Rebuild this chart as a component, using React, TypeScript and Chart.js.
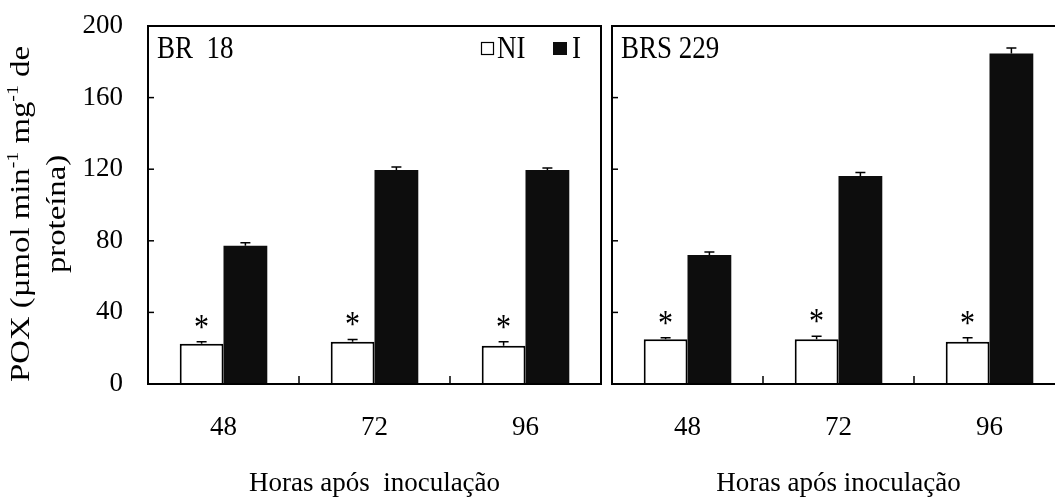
import React, { useEffect, useRef } from "react";
import { Chart, registerables } from "chart.js";

Chart.register(...registerables);

const FONT = "'Liberation Serif', 'Times New Roman', Times, serif";

// ---- data ----
const hours = ["48", "72", "96"];
const seriesNames = ["NI", "I"];
const yTickValues = [0, 40, 80, 120, 160, 200];

const br18NI = [22.5, 23.6, 21.4];
const br18NIErr = [1.1, 1.3, 2.2];
const br18I = [77.3, 119.5, 119.5];
const br18IErr = [1.6, 1.7, 1.2];

const brs229NI = [25.0, 25.0, 23.6];
const brs229NIErr = [0.9, 1.7, 2.3];
const brs229I = [72.1, 116.2, 184.7];
const brs229IErr = [1.7, 2.0, 3.0];

const significantNI = [true, true, true];

const yTitleLine1: [string, boolean][] = [
  ["POX (µmol min", false],
  ["-1", true],
  [" mg", false],
  ["-1", true],
  [" de", false],
];
const yTitleLine2: [string, boolean][] = [["proteína)", false]];

type PanelCfg = {
  label: string;
  xTitle: string;
  ni: number[];
  niErr: number[];
  inf: number[];
  infErr: number[];
  showYTicks: boolean;
  yWidth: number;
  padRight: number;
  rightBorder: boolean;
  showLegend: boolean;
  showYTitle: boolean;
};

function drawRich(ctx: CanvasRenderingContext2D, segs: [string, boolean][], size: number) {
  const supSize = Math.round(size * 0.6);
  const widths = segs.map(([t, sup]) => {
    ctx.font = `${sup ? supSize : size}px ${FONT}`;
    return ctx.measureText(t).width;
  });
  const total = widths.reduce((a, b) => a + b, 0);
  let x = -total / 2;
  segs.forEach(([t, sup], i) => {
    ctx.font = `${sup ? supSize : size}px ${FONT}`;
    ctx.fillText(t, x, sup ? -size * 0.4 : 0);
    x += widths[i];
  });
}

function makePlugin(cfg: PanelCfg, canvasLeft: number) {
  return {
    id: "panelDecor",
    afterDatasetsDraw(chart: any) {
      const { ctx, chartArea: a, scales } = chart;
      const xs = scales.x;
      const ys = scales.y;
      ctx.save();
      ctx.strokeStyle = "#000";
      ctx.fillStyle = "#000";

      // error bars + asterisks
      chart.data.datasets.forEach((ds: any, di: number) => {
        const meta = chart.getDatasetMeta(di);
        meta.data.forEach((el: any, i: number) => {
          const v = ds.data[i];
          const e = ds.errors[i];
          const yTop = ys.getPixelForValue(v + e);
          ctx.lineWidth = 1.5;
          ctx.beginPath();
          ctx.moveTo(el.x, el.y);
          ctx.lineTo(el.x, yTop);
          ctx.moveTo(el.x - 5, yTop);
          ctx.lineTo(el.x + 5, yTop);
          ctx.stroke();
          if (ds.marks && ds.marks[i]) {
            ctx.save();
            ctx.translate(el.x, yTop - 3);
            ctx.scale(1, 1.2);
            ctx.font = `30px ${FONT}`;
            ctx.textAlign = "center";
            ctx.textBaseline = "alphabetic";
            ctx.fillText("*", 0, 0);
            ctx.restore();
          }
        });
      });

      // frame
      ctx.lineWidth = 2;
      ctx.beginPath();
      ctx.moveTo(a.left, a.bottom);
      ctx.lineTo(a.left, a.top);
      ctx.lineTo(a.right + 1, a.top);
      if (cfg.rightBorder) {
        ctx.moveTo(a.right, a.top);
        ctx.lineTo(a.right, a.bottom);
      }
      ctx.moveTo(a.left - 1, a.bottom);
      ctx.lineTo(a.right + 1, a.bottom);
      ctx.stroke();

      // inner y ticks
      ctx.lineWidth = 1.5;
      yTickValues.forEach((v) => {
        const py = ys.getPixelForValue(v);
        ctx.beginPath();
        ctx.moveTo(a.left, py);
        ctx.lineTo(a.left + 6, py);
        ctx.stroke();
      });
      // inner x ticks at category boundaries
      for (let i = 1; i < hours.length; i++) {
        const px = (xs.getPixelForValue(i - 1) + xs.getPixelForValue(i)) / 2;
        ctx.beginPath();
        ctx.moveTo(px, a.bottom);
        ctx.lineTo(px, a.bottom - 8);
        ctx.stroke();
      }

      // panel label (slightly tall type, like the source figure)
      ctx.textAlign = "left";
      ctx.textBaseline = "alphabetic";
      ctx.save();
      ctx.translate(a.left + 9, 58);
      ctx.scale(1, 1.15);
      ctx.font = `27px ${FONT}`;
      ctx.fillText(cfg.label, 0, 0);
      ctx.restore();

      // legend
      if (cfg.showLegend) {
        const lx = a.left + 333;
        ctx.lineWidth = 1.2;
        ctx.fillStyle = "#fff";
        ctx.fillRect(lx, 42, 13, 13);
        ctx.strokeRect(lx + 0.5, 42.5, 12, 12);
        ctx.fillStyle = "#0d0d0d";
        ctx.fillRect(lx + 72, 42, 14, 13);
        ctx.fillStyle = "#000";
        ctx.save();
        ctx.translate(0, 58);
        ctx.scale(1, 1.15);
        ctx.font = `27px ${FONT}`;
        ctx.fillText(seriesNames[0], lx + 16, 0);
        ctx.fillText(seriesNames[1], lx + 91, 0);
        ctx.restore();
      }

      // y title
      if (cfg.showYTitle) {
        const size = 28;
        ctx.textAlign = "left";
        ctx.textBaseline = "alphabetic";
        [
          [yTitleLine1, 21],
          [yTitleLine2, 57],
        ].forEach(([segs, cx]: any) => {
          ctx.save();
          ctx.translate(cx - canvasLeft, 214);
          ctx.scale(1, 1.17);
          ctx.rotate(-Math.PI / 2);
          ctx.translate(0, size * 0.3);
          drawRich(ctx, segs, size);
          ctx.restore();
        });
      }
      ctx.restore();
    },
  };
}

function PanelChart({ left, width, cfg }: { left: number; width: number; cfg: PanelCfg }) {
  const ref = useRef<HTMLCanvasElement>(null);
  useEffect(() => {
    const font = { family: FONT, size: 27 };
    const chart = new Chart(ref.current as HTMLCanvasElement, {
      type: "bar",
      data: {
        labels: hours,
        datasets: [
          {
            label: seriesNames[0],
            data: cfg.ni,
            errors: cfg.niErr,
            marks: significantNI,
            backgroundColor: "#ffffff",
            borderColor: "#000000",
            borderWidth: 2,
          } as any,
          {
            label: seriesNames[1],
            data: cfg.inf,
            errors: cfg.infErr,
            backgroundColor: "#0d0d0d",
            borderWidth: 0,
          } as any,
        ],
      },
      options: {
        animation: false,
        responsive: false,
        devicePixelRatio: 1,
        layout: { padding: { top: 26, right: cfg.padRight, bottom: 0, left: 0 } },
        plugins: { legend: { display: false }, tooltip: { enabled: false } },
        datasets: { bar: { categoryPercentage: 0.58, barPercentage: 1 } },
        scales: {
          x: {
            type: "category",
            offset: true,
            grid: { display: false, drawTicks: false },
            border: { display: false },
            ticks: { color: "#000", font, padding: 28, maxRotation: 0 },
            title: {
              display: true,
              text: cfg.xTitle,
              color: "#000",
              font,
              padding: { top: 0, bottom: 0 },
            },
            afterFit: (s: any) => {
              s.height = 116;
              s.paddingLeft = 0;
              s.paddingRight = 0;
            },
          },
          y: {
            min: 0,
            max: 200,
            grid: { display: false, drawTicks: false },
            border: { display: false },
            ticks: { display: cfg.showYTicks, stepSize: 40, color: "#000", font, padding: 25 },
            afterFit: (s: any) => {
              s.width = cfg.yWidth;
              s.paddingTop = 0;
              s.paddingBottom = 0;
            },
          },
        },
      } as any,
      plugins: [makePlugin(cfg, left)],
    });
    return () => chart.destroy();
  }, []);
  return (
    <canvas
      ref={ref}
      width={width}
      height={500}
      style={{ position: "absolute", left, top: 0, width, height: 500, display: "block" }}
    />
  );
}

const leftCfg: PanelCfg = {
  label: "BR  18",
  xTitle: "Horas após  inoculação",
  ni: br18NI,
  niErr: br18NIErr,
  inf: br18I,
  infErr: br18IErr,
  showYTicks: true,
  yWidth: 148,
  padRight: 5,
  rightBorder: true,
  showLegend: true,
  showYTitle: true,
};

const rightCfg: PanelCfg = {
  label: "BRS 229",
  xTitle: "Horas após inoculação",
  ni: brs229NI,
  niErr: brs229NIErr,
  inf: brs229I,
  infErr: brs229IErr,
  showYTicks: false,
  yWidth: 6,
  padRight: 15,
  rightBorder: false,
  showLegend: false,
  showYTitle: false,
};

export default function App() {
  return (
    <div
      style={{
        position: "absolute",
        left: 0,
        top: 0,
        width: 1055,
        height: 500,
        overflow: "hidden",
        background: "#fff",
      }}
    >
      <PanelChart left={0} width={606} cfg={leftCfg} />
      <PanelChart left={606} width={474} cfg={rightCfg} />
    </div>
  );
}
